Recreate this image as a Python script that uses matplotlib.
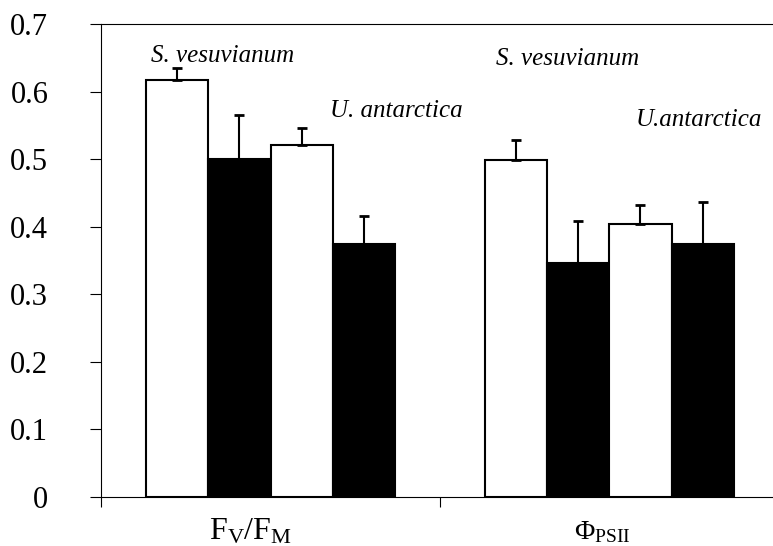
import numpy as np
import matplotlib
matplotlib.use('Agg')
import matplotlib.pyplot as plt

plt.rcParams['font.family'] = ['Liberation Serif', 'DejaVu Serif']
plt.rcParams['mathtext.fontset'] = 'custom'
plt.rcParams['mathtext.rm'] = 'Liberation Serif'
plt.rcParams['mathtext.it'] = 'Liberation Serif:italic'

# 数据
categories = [r'F$_\mathrm{V}$/F$_\mathrm{M}$', r'Φ$_\mathrm{PSII}$']
sv_white = [0.618, 0.499]
sv_white_err = [0.017, 0.029]
sv_black = [0.501, 0.347]
sv_black_err = [0.065, 0.061]
ua_white = [0.522, 0.405]
ua_white_err = [0.024, 0.027]
ua_black = [0.375, 0.375]
ua_black_err = [0.041, 0.062]

species = ['S. vesuvianum', 'U. antarctica', 'S. vesuvianum', 'U.antarctica']
label_x = [-0.140, 0.370, 0.875, 1.264]
label_y = [0.644, 0.563, 0.639, 0.550]

fig = plt.figure(figsize=(7.73, 5.46), dpi=100)
ax = fig.add_axes([0.1307, 0.0897, 0.877, 0.8658])

x = np.arange(len(categories))
w = 0.183
series = [(sv_white, sv_white_err, 'white'), (sv_black, sv_black_err, 'black'),
          (ua_white, ua_white_err, 'white'), (ua_black, ua_black_err, 'black')]
for i, (vals, errs, col) in enumerate(series):
    pos = x + (i - 1.5) * w
    ax.bar(pos, vals, w, color=col, edgecolor='black', linewidth=1.5, zorder=2)
    ax.errorbar(pos, vals, yerr=[np.zeros(len(vals)), errs], fmt='none',
                ecolor='black', elinewidth=1.5, capsize=3.5, capthick=2, zorder=3)

for s, lx, ly in zip(species, label_x, label_y):
    ax.text(lx, ly, s, style='italic', fontsize=18, ha='center', va='baseline')

ax.set_xlim(-0.5, 1.5)
ax.set_ylim(0, 0.7)
ax.set_yticks(np.arange(0, 0.71, 0.1))
ax.set_yticklabels(['0', '0.1', '0.2', '0.3', '0.4', '0.5', '0.6', '0.7'])
ax.tick_params(axis='y', direction='out', length=8, width=0.8, labelsize=22, pad=30)
ax.set_xticks([-0.5, 0.5, 1.5])
ax.set_xticklabels([])
ax.tick_params(axis='x', direction='out', length=7.5, width=0.8)

label_cx = [-0.058, 0.978]
label_sz = [23, 20]
for c, cx, sz in zip(categories, label_cx, label_sz):
    ax.text(cx, -0.063, c, fontsize=sz, ha='center', va='baseline', clip_on=False)

for sp in ax.spines.values():
    sp.set_linewidth(0.8)

fig.savefig('out.png', dpi=100)
